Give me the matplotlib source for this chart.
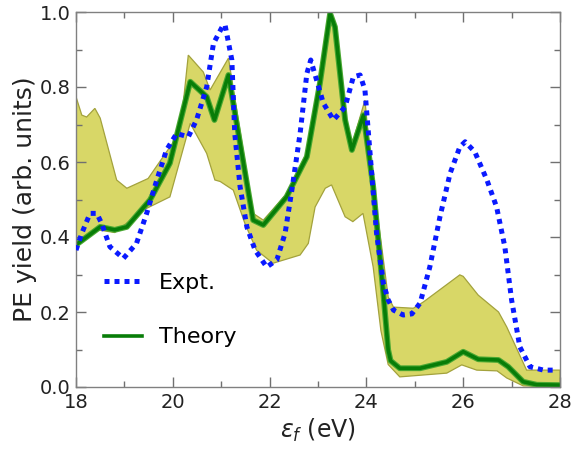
import matplotlib
matplotlib.use("Agg")
import matplotlib.pyplot as plt
import numpy as np

# Theory (green)
theory_x = [18.0, 18.5, 18.8, 19.05, 19.53, 19.94, 20.36, 20.70, 20.86, 21.15,
            21.66, 21.87, 22.35, 22.77, 23.04, 23.25, 23.35, 23.56, 23.70, 23.94,
            24.14, 24.35, 24.45, 24.5, 24.69, 25.11, 25.66, 26.0, 26.31, 26.73,
            26.93, 27.24, 27.52, 28.0]
theory_y = [0.379, 0.427, 0.419, 0.427, 0.499, 0.597, 0.814, 0.774, 0.712, 0.832,
            0.445, 0.432, 0.507, 0.614, 0.81, 0.996, 0.96, 0.712, 0.632, 0.725,
            0.534, 0.25, 0.099, 0.07, 0.05, 0.05, 0.067, 0.094, 0.074, 0.072,
            0.054, 0.014, 0.006, 0.005]

# Experiment (blue dotted)
expt_x = [18.0, 18.12, 18.29, 18.43, 18.53, 18.70, 18.98, 19.25, 19.46, 19.67,
          19.87, 20.08, 20.32, 20.49, 20.70, 20.84, 21.04, 21.08, 21.22, 21.28,
          21.39, 21.53, 21.70, 21.94, 22.15, 22.32, 22.46, 22.63, 22.77, 22.85,
          22.97, 23.11, 23.32, 23.56, 23.73, 23.87, 23.97, 24.07, 24.21, 24.35,
          24.45, 24.56, 24.76, 24.94, 25.11, 25.31, 25.52, 25.73, 25.93, 26.04,
          26.24, 26.49, 26.69, 26.86, 27.0, 27.17, 27.38, 27.66, 27.93]
expt_y = [0.365, 0.41, 0.463, 0.463, 0.436, 0.374, 0.343, 0.383, 0.463, 0.552,
          0.632, 0.676, 0.667, 0.712, 0.80, 0.916, 0.965, 0.965, 0.872, 0.676,
          0.534, 0.427, 0.365, 0.32, 0.339, 0.41, 0.525, 0.676, 0.836, 0.872,
          0.819, 0.757, 0.712, 0.747, 0.827, 0.832, 0.792, 0.632, 0.41, 0.277,
          0.232, 0.205, 0.192, 0.195, 0.224, 0.32, 0.454, 0.57, 0.64, 0.654,
          0.627, 0.552, 0.48, 0.374, 0.232, 0.107, 0.054, 0.045, 0.045]

# Theory uncertainty band
upper_x = [18.0, 18.12, 18.22, 18.39, 18.5, 18.84, 19.05, 19.49, 19.94, 20.15,
           20.32, 20.63, 20.77, 21.15, 21.66, 21.87, 22.35, 22.77, 23.04, 23.25,
           23.35, 23.56, 23.70, 23.97, 24.1, 24.3, 24.45, 24.56, 24.97, 25.18,
           25.93, 26.0, 26.31, 26.73, 26.9, 27.31, 28.0]
upper_y = [0.774, 0.725, 0.72, 0.743, 0.717, 0.552, 0.53, 0.556, 0.64, 0.676,
           0.885, 0.84, 0.792, 0.877, 0.463, 0.445, 0.515, 0.625, 0.825, 1.0,
           0.97, 0.73, 0.645, 0.765, 0.58, 0.39, 0.24, 0.213, 0.21, 0.227,
           0.299, 0.295, 0.245, 0.2, 0.16, 0.045, 0.045]
lower_x = [18.0, 18.4, 18.8, 19.39, 19.94, 20.36, 20.70, 20.87, 20.98, 21.25,
           21.49, 21.73, 22.07, 22.63, 22.8, 22.94, 23.15, 23.28, 23.56, 23.72,
           23.93, 24.14, 24.3, 24.45, 24.69, 25.66, 25.97, 26.28, 26.7, 26.9,
           27.24, 28.0]
lower_y = [0.374, 0.42, 0.412, 0.472, 0.507, 0.703, 0.623, 0.552, 0.548, 0.525,
           0.436, 0.365, 0.33, 0.352, 0.383, 0.48, 0.53, 0.539, 0.454, 0.441,
           0.463, 0.32, 0.15, 0.06, 0.027, 0.037, 0.059, 0.045, 0.043, 0.024,
           0.003, 0.0]

x_ticks = [18, 20, 22, 24, 26, 28]
y_ticks = [0.0, 0.2, 0.4, 0.6, 0.8, 1.0]

fig = plt.figure(figsize=(5.73, 4.51), dpi=100)
ax = fig.add_axes([76 / 573, 1 - 387 / 451, (560 - 76) / 573, (387 - 12) / 451])

poly_x = np.concatenate([upper_x, lower_x[::-1]])
poly_y = np.concatenate([upper_y, lower_y[::-1]])
ax.fill(poly_x, poly_y, facecolor="#d8d767", edgecolor="#a3a23c", lw=0.9, zorder=1)

ax.plot(expt_x, expt_y, color="#0a1aff", lw=3.6, dashes=(1, 1), label="Expt.", zorder=3)
ax.plot(theory_x, theory_y, color="#4aa832", lw=4.2, zorder=2, solid_joinstyle="round")
ax.plot(theory_x, theory_y, color="#087d08", lw=2.6, label="Theory", zorder=2,
        solid_joinstyle="round")

ax.set_xlim(18, 28)
ax.set_ylim(0, 1.0)
ax.set_xticks(x_ticks)
ax.set_yticks(y_ticks)
ax.set_xticks(np.arange(18, 28.01, 1), minor=True)
ax.set_yticks(np.arange(0, 1.001, 0.1), minor=True)
ax.set_xticklabels([str(t) for t in x_ticks])
ax.set_yticklabels([f"{t:.1f}" for t in y_ticks])
ax.tick_params(which="both", direction="in", top=True, right=True, color="#707070",
               labelsize=14, labelcolor="#222222", pad=4)
ax.tick_params(which="major", length=7, width=1)
ax.tick_params(which="minor", length=4, width=1)
for s in ax.spines.values():
    s.set_color("#808080")
    s.set_linewidth(1.0)

ax.set_xlabel(r"$\varepsilon_f$ (eV)", fontsize=17, color="#222222", labelpad=4)
ax.set_ylabel("PE yield (arb. units)", fontsize=18, color="#222222", labelpad=2)

ax.legend(loc="center left", bbox_to_anchor=(0.058, 0.205), frameon=False,
          fontsize=16, handlelength=1.7, handletextpad=0.75, labelspacing=1.55,
          borderpad=0, borderaxespad=0)

fig.savefig("out.png", dpi=100)
